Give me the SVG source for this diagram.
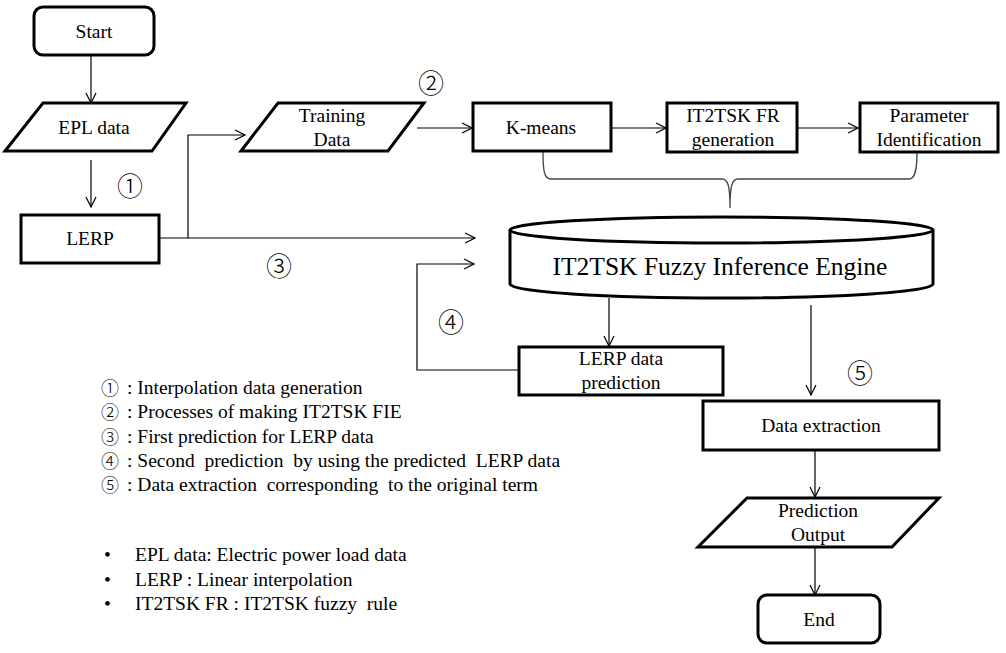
<svg xmlns="http://www.w3.org/2000/svg" width="1006" height="653" viewBox="0 0 1006 653">
<style>
.n{fill:#fff;stroke:#000;stroke-width:3;stroke-linejoin:miter}
.t{font-size:19.5px;fill:#000;text-anchor:middle}
.l{font-size:19.5px;fill:#000;white-space:pre}
.c{fill:#000;text-anchor:middle;font-weight:300}
.e{fill:none;stroke:#000;stroke-width:1.2}
</style>
<defs>
<marker id="a" viewBox="0 0 12 12" markerWidth="12" markerHeight="12" refX="11" refY="6" orient="auto" markerUnits="userSpaceOnUse">
<path d="M1,1 L11,6 L1,11" fill="none" stroke="#000" stroke-width="1.2"/>
</marker>
</defs>
<rect width="1006" height="653" fill="#fff"/>
<g id="connectors">
<line class="e" x1="91" y1="55" x2="91" y2="103" marker-end="url(#a)"/>
<line class="e" x1="91" y1="160" x2="91" y2="207" marker-end="url(#a)"/>
<polyline class="e" points="159,238 188,238 188,135 245,135" marker-end="url(#a)"/>
<line class="e" x1="188" y1="238" x2="475" y2="238" marker-end="url(#a)"/>
<line class="e" x1="417" y1="128" x2="472" y2="128" marker-end="url(#a)"/>
<line class="e" x1="611" y1="128" x2="666" y2="128" marker-end="url(#a)"/>
<line class="e" x1="797" y1="128" x2="858" y2="128" marker-end="url(#a)"/>
<path d="M543,152 C543,170 544,179 551,179 L722,179 C728,179 730,186 730,208 C730,186 732,179 738,179 L909,179 C915,179 917,170 917,152" fill="none" stroke="#444" stroke-width="1.3"/>
<line class="e" x1="609" y1="298" x2="609" y2="346" marker-end="url(#a)"/>
<polyline class="e" points="519,370 417,370 417,264 474,264" marker-end="url(#a)"/>
<line class="e" x1="811" y1="305" x2="811" y2="395" marker-end="url(#a)"/>
<line class="e" x1="815" y1="450" x2="815" y2="497" marker-end="url(#a)"/>
<line class="e" x1="815" y1="547" x2="815" y2="595" marker-end="url(#a)"/>
</g>
<g font-family="Liberation Serif, Times New Roman, serif">
<g id="start"><rect class="n" x="34" y="7" width="120" height="48" rx="9"/><text class="t" x="94" y="38">Start</text></g>
<g id="epl"><polygon class="n" points="43,103 186,103 152,151 5,151"/><text class="t" x="94" y="134">EPL data</text></g>
<g id="lerp"><rect class="n" x="21" y="215" width="138" height="48"/><text class="t" x="90" y="245">LERP</text></g>
<g id="training"><polygon class="n" points="278,103 424,103 388,151 241,151"/><text class="t" x="332" y="122">Training</text><text class="t" x="332" y="146">Data</text></g>
<g id="kmeans"><rect class="n" x="473" y="103" width="138" height="48"/><text class="t" x="541" y="134">K-means</text></g>
<g id="frgen"><rect class="n" x="667" y="103" width="130" height="49"/><text class="t" x="733" y="122">IT2TSK FR</text><text class="t" x="733" y="146">generation</text></g>
<g id="param"><rect class="n" x="860" y="103" width="138" height="49"/><text class="t" x="929" y="122">Parameter</text><text class="t" x="929" y="146">Identification</text></g>
<g id="engine">
<path class="n" d="M510,230 L510,284 A211.5,14 0 0 0 933,284 L933,230"/>
<ellipse class="n" cx="721.5" cy="230" rx="211.5" ry="13"/>
<text class="t" x="720" y="275" style="font-size:25.5px">IT2TSK Fuzzy Inference Engine</text>
</g>
<g id="lerppred"><rect class="n" x="519" y="347" width="204" height="48"/><text class="t" x="621" y="365">LERP data</text><text class="t" x="621" y="389">prediction</text></g>
<g id="extract"><rect class="n" x="703" y="401" width="236" height="49"/><text class="t" x="821" y="432">Data extraction</text></g>
<g id="output"><polygon class="n" points="747,498 939,498 892,547 698,547"/><text class="t" x="818" y="517">Prediction</text><text class="t" x="818" y="541">Output</text></g>
<g id="end"><rect class="n" x="758" y="595" width="122" height="48" rx="9"/><text class="t" x="819" y="626">End</text></g>
<g id="steps" font-family="Noto Sans CJK JP, sans-serif">
<text class="c" x="130" y="196" style="font-size:26px">①</text>
<text class="c" x="431" y="93" style="font-size:26px">②</text>
<text class="c" x="279" y="276" style="font-size:26px">③</text>
<text class="c" x="451" y="332" style="font-size:26px">④</text>
<text class="c" x="860" y="383" style="font-size:26px">⑤</text>
</g>
<g id="legend">
<g font-family="Noto Sans CJK JP, sans-serif">
<text class="c" x="110" y="395" style="font-size:18px">①</text>
<text class="c" x="110" y="419" style="font-size:18px">②</text>
<text class="c" x="110" y="444" style="font-size:18px">③</text>
<text class="c" x="110" y="468" style="font-size:18px">④</text>
<text class="c" x="110" y="492" style="font-size:18px">⑤</text>
</g>
<text class="l" x="127" y="394">: Interpolation data generation</text>
<text class="l" x="127" y="418">: Processes of making IT2TSK FIE</text>
<text class="l" x="127" y="443">: First prediction for LERP data</text>
<text class="l" x="127" y="467">: Second  prediction  by using the predicted  LERP data</text>
<text class="l" x="127" y="491">: Data extraction  corresponding  to the original term</text>
<text class="l" x="104" y="561">•</text><text class="l" x="135" y="561">EPL data: Electric power load data</text>
<text class="l" x="104" y="586">•</text><text class="l" x="135" y="586">LERP : Linear interpolation</text>
<text class="l" x="104" y="610">•</text><text class="l" x="135" y="610">IT2TSK FR : IT2TSK fuzzy  rule</text>
</g>
</g>
</svg>
